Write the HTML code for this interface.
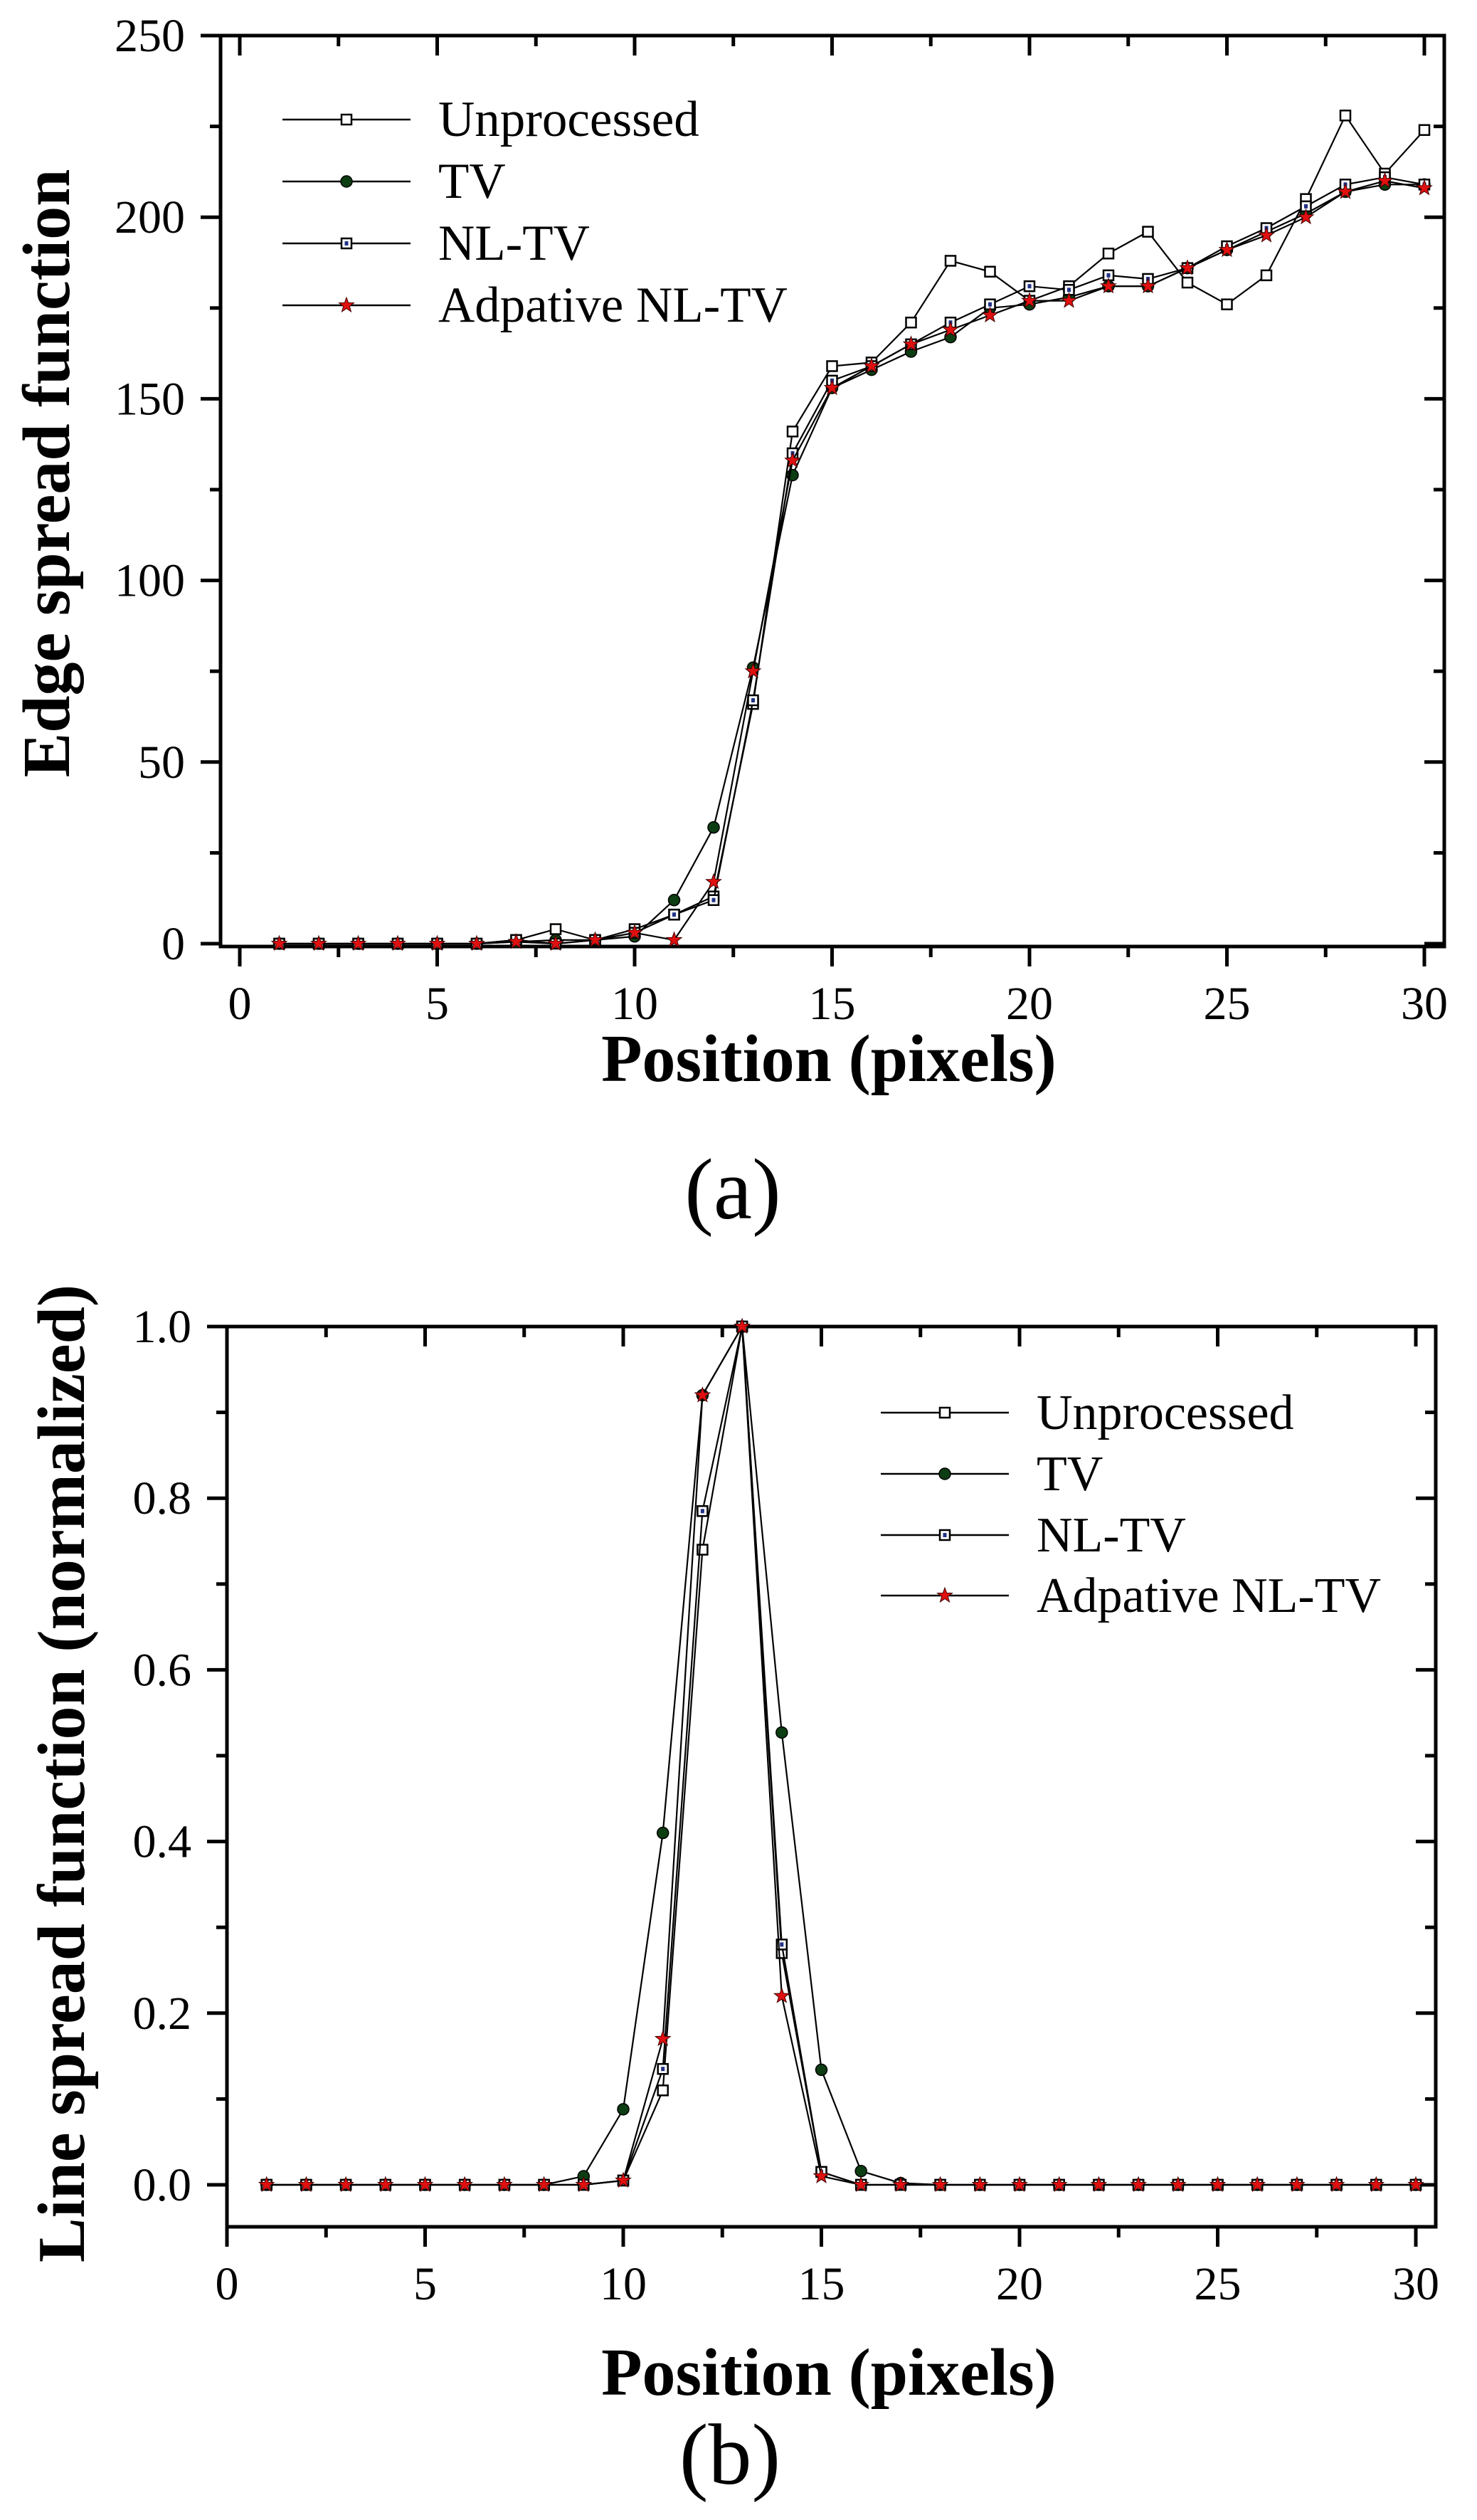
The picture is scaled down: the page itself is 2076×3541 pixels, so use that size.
<!DOCTYPE html>
<html><head><meta charset="utf-8">
<style>
html,body{margin:0;padding:0;background:#fff;}
svg{display:block;}
text{font-family:"Liberation Serif",serif;fill:#000;}
</style></head>
<body>
<svg id="fig" width="2076" height="3541" viewBox="0 0 2076 3541" xmlns="http://www.w3.org/2000/svg"></svg>
<script>
// ---- data: chart (a) edge spread function ----
const positions = [1,2,3,4,5,6,7,8,9,10,11,12,13,14,15,16,17,18,19,20,21,22,23,24,25,26,27,28,29,30];
const esfUnprocessed = [0,0,0,0,0,0,1,4,1,4,8,13,66,141,159,160,171,188,185,177,181,190,196,182,176,184,205,228,212,224];
const esfTV = [0,0,0,0,0,0,0.5,1,1,2,12,32,76,129,153,158,163,167,175,176,178,181,181,186,191,196,201,207,209,209];
const esfNLTV = [0,0,0,0,0,0,1,0,1,3,8,12,67,135,155,159,165,171,176,181,180,184,183,186,192,197,203,209,211,209];
const esfAdaptive = [0,0,0,0,0,0,0.5,0,1,3,1,17,75,133,153,159,165,169,173,177,177,181,181,186,191,195,200,207,210,208];
// ---- data: chart (b) line spread function ----
const lsfUnprocessed = [0,0,0,0,0,0,0,0,0,0.005,0.11,0.74,1.0,0.27,0.015,0,0,0,0,0,0,0,0,0,0,0,0,0,0,0];
const lsfTV = [0,0,0,0,0,0,0,0,0.01,0.088,0.41,0.92,1.0,0.527,0.134,0.016,0.002,0,0,0,0,0,0,0,0,0,0,0,0,0];
const lsfNLTV = [0,0,0,0,0,0,0,0,0,0.005,0.135,0.785,1.0,0.28,0.015,0,0,0,0,0,0,0,0,0,0,0,0,0,0,0];
const lsfAdaptive = [0,0,0,0,0,0,0,0,0,0.005,0.17,0.92,1.0,0.22,0.01,0,0,0,0,0,0,0,0,0,0,0,0,0,0,0];
const xTicks = [0,5,10,15,20,25,30];
const esfYTicks = [0,50,100,150,200,250];
const lsfYTicks = ["0.0","0.2","0.4","0.6","0.8","1.0"];
const seriesNames = ["Unprocessed","TV","NL-TV","Adpative NL-TV"];

const NS="http://www.w3.org/2000/svg";
const svg=document.getElementById('fig');
function mk(tag,attrs,parent){const e=document.createElementNS(NS,tag);for(const k in attrs)e.setAttribute(k,attrs[k]);(parent||svg).appendChild(e);return e;}

function marker(g,kind,x,y){
  let m;
  if(kind===0){m=mk('rect',{x:x-7,y:y-7,width:14,height:14,fill:'#fff',stroke:'#000','stroke-width':2.5},g);}
  else if(kind===1){m=mk('circle',{cx:x,cy:y,r:8,fill:'#0d3d12',stroke:'#000','stroke-width':1.5},g);}
  else if(kind===2){m=mk('rect',{x:x-7,y:y-7,width:14,height:14,fill:'#fff',stroke:'#000','stroke-width':2.5},g);
    mk('rect',{x:x-2.5,y:y-3,width:5,height:6,fill:'#223388'},g);}
  else{let pts=[];for(let i=0;i<10;i++){const r=i%2?4.5:11;const a=-Math.PI/2+i*Math.PI/5;pts.push((x+r*Math.cos(a)).toFixed(1)+','+(y+r*Math.sin(a)).toFixed(1));}
    m=mk('polygon',{points:pts.join(' '),fill:'#e01010',stroke:'#400','stroke-width':1},g);}
  return m;
}

function chart(cfg){
  const g=mk('g',{});
  
  
  const X=v=>cfg.x0+(v-cfg.xmin)*(cfg.x1-cfg.x0)/(cfg.xmax-cfg.xmin);
  const Y=v=>cfg.y0+(v-cfg.ymin)*(cfg.y1-cfg.y0)/(cfg.ymax-cfg.ymin);
  const tg=mk('g',{stroke:'#000','stroke-width':5},g);
  for(let v=cfg.xmin;v<=cfg.xmax+1e-9;v+=cfg.xminor){
    const major=Math.abs(v/cfg.xmajor-Math.round(v/cfg.xmajor))<1e-6;const L=major?28:15;
    mk('line',{x1:X(v),y1:cfg.bot,x2:X(v),y2:cfg.bot+L},tg);
    mk('line',{x1:X(v),y1:cfg.top,x2:X(v),y2:cfg.top+L},tg);
  }
  for(let v=cfg.ymin;v<=cfg.ymax+1e-9;v+=cfg.yminor){
    const major=Math.abs(v/cfg.ymajor-Math.round(v/cfg.ymajor))<1e-6;const L=major?28:15;
    mk('line',{x1:cfg.left,y1:Y(v),x2:cfg.left-L,y2:Y(v)},tg);
    mk('line',{x1:cfg.right,y1:Y(v),x2:cfg.right-L,y2:Y(v)},tg);
  }
  const fr=mk('rect',{x:cfg.left,y:cfg.top,width:cfg.right-cfg.left,height:cfg.bot-cfg.top,fill:'none',stroke:'#000','stroke-width':5},g);
  
  
  xTicks.forEach(v=>{const t=mk('text',{x:X(v),y:cfg.bot+102,'font-size':66,'text-anchor':'middle'},g);t.textContent=v;
    
    });
  cfg.yTicks.forEach(s=>{const v=parseFloat(s);const t=mk('text',{x:cfg.left-50,y:Y(v)+22,'font-size':66,'text-anchor':'end'},g);t.textContent=s;
    
    });
  cfg.series.forEach((arr,k)=>{
    const sg=mk('g',{},g);
    
    
    const d=arr.map((v,i)=>(i?'L':'M')+X(positions[i]).toFixed(1)+','+Y(v).toFixed(1)).join(' ');
    mk('path',{d:d,fill:'none',stroke:'#000','stroke-width':2.2},sg);
    arr.forEach((v,i)=>{const m=marker(sg,k,X(positions[i]),Y(v));
      
      });
  });
  const lg=mk('g',{},g);
  
  
  seriesNames.forEach((n,k)=>{
    const y=cfg.legY[k];
    const e=mk('g',{},lg);
    
    
    mk('line',{x1:cfg.legX,y1:y,x2:cfg.legX+180,y2:y,stroke:'#000','stroke-width':2.5},e);
    marker(e,k,cfg.legX+90,y);
    const t=mk('text',{x:cfg.legX+219,y:y+23,'font-size':cfg.legFont},e);t.textContent=n;
  });
  const xt=mk('text',{x:cfg.xtX,y:cfg.xtY,'font-size':94,'font-weight':'bold','text-anchor':'middle'},g);
  xt.textContent='Position (pixels)';
  
  
  const yt=mk('text',{x:0,y:0,'font-size':94,'font-weight':'bold','text-anchor':'middle',transform:`translate(${cfg.ytX},${cfg.ytY}) rotate(-90)`},g);
  yt.textContent=cfg.ytitle;
  
  
  const pl=mk('text',{x:cfg.panX,y:cfg.panY,'font-size':122,'text-anchor':'middle'},g);
  pl.textContent=cfg.panel;
  
  
}

chart({name:'edge-spread-chart',left:310,right:2030,top:50,bot:1330,
  xmin:0,xmax:30,x0:337,x1:2002,xmajor:5,xminor:2.5,
  ymin:0,ymax:250,y0:1326,y1:50,ymajor:50,yminor:25,yTicks:esfYTicks,
  series:[esfUnprocessed,esfTV,esfNLTV,esfAdaptive],
  legX:397,legY:[168,255,342,429],legFont:71,
  xtX:1165,xtY:1519,ytX:97,ytY:665,ytitle:'Edge spread function',panX:1030,panY:1712,panel:'(a)'});

chart({name:'line-spread-chart',left:319,right:2018,top:1864,bot:3129,
  xmin:0,xmax:30,x0:319,x1:1990,xmajor:5,xminor:2.5,
  ymin:0,ymax:1,y0:3070,y1:1864,ymajor:0.2,yminor:0.1,yTicks:lsfYTicks,
  series:[lsfUnprocessed,lsfTV,lsfNLTV,lsfAdaptive],
  legX:1238,legY:[1985,2071,2157,2242],legFont:70,
  xtX:1165,xtY:3365,ytX:118,ytY:2492,ytitle:'Line spread function (normalized)',panX:1026,panY:3490,panel:'(b)'});
</script>
</body></html>
